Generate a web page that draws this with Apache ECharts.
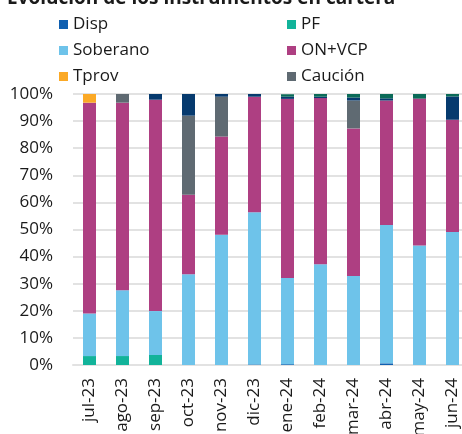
<!DOCTYPE html>
<html>
<head>
<meta charset="utf-8">
<script src="https://cdn.jsdelivr.net/npm/echarts@6/dist/echarts.min.js"></script>
<style>
  html, body { margin: 0; padding: 0; background: #fff; }
  #chart { width: 462px; height: 434px; }
</style>
</head>
<body>
<div id="chart"></div>
<script>
var months = ['jul-23', 'ago-23', 'sep-23', 'oct-23', 'nov-23', 'dic-23', 'ene-24', 'feb-24', 'mar-24', 'abr-24', 'may-24', 'jun-24'];

// % de la cartera, de abajo hacia arriba
var disp     = [0, 0, 0, 0, 0, 0.2, 0.3, 0, 0, 0.6, 0, 0];
var pf       = [3.3, 3.3, 3.7, 0, 0, 0, 0, 0, 0, 0, 0, 0];
var soberano = [15.7, 24.3, 16.2, 33.5, 48.1, 56.2, 31.8, 37.2, 32.8, 51.1, 44.1, 49.1];
var onVcp    = [77.8, 69.2, 78.0, 29.3, 36.2, 42.6, 66.1, 61.3, 54.5, 45.9, 54.2, 41.4];
var tprov    = [3.2, 0, 0, 0, 0, 0, 0, 0, 0, 0, 0, 0];
var caucion  = [0, 3.2, 0, 29.2, 14.7, 0, 0, 0, 10.3, 0, 0, 0];
var fci      = [0, 0, 2.1, 8.0, 1.0, 1.0, 0.8, 0.5, 1.1, 0.8, 0, 8.6];
var otros    = [0, 0, 0, 0, 0, 0, 0.9, 1.0, 1.3, 1.6, 1.7, 0.9];

var names = ['Disp', 'PF', 'Soberano', 'ON+VCP', 'Tprov', 'Caución', 'FCI', 'Otros'];
var values = [disp, pf, soberano, onVcp, tprov, caucion, fci, otros];
var colors = ['#0F5FB0', '#12B39A', '#6EC3EA', '#AE3F82', '#FBA926', '#5F6A72', '#063A6E', '#0B6B58'];

var font = 'Open Sans';

var myChart = echarts.init(document.getElementById('chart'));

var series = [];
for (var i = 0; i < names.length; i++) {
    series.push({
        name: names[i],
        type: 'bar',
        stack: 'total',
        barWidth: 13,
        data: values[i],
        itemStyle: { color: colors[i] }
    });
}

var legendText = { fontFamily: font, fontSize: 17, color: '#1a1a1a' };

var option = {
    animation: false,
    textStyle: { fontFamily: font },
    title: {
        text: 'Evolución de los instrumentos en cartera',
        left: 2,
        top: -16,
        textStyle: { fontFamily: font, fontSize: 19, fontWeight: 'bold', color: '#1a1a1a' }
    },
    legend: [{
        data: ['Disp', 'Soberano', 'Tprov'],
        orient: 'vertical',
        left: 54,
        top: 11,
        icon: 'rect',
        itemWidth: 9,
        itemHeight: 9,
        itemGap: 9,
        textStyle: legendText
    }, {
        data: ['PF', 'ON+VCP', 'Caución'],
        orient: 'vertical',
        left: 282,
        top: 11,
        icon: 'rect',
        itemWidth: 9,
        itemHeight: 9,
        itemGap: 9,
        textStyle: legendText
    }],
    grid: {
        left: 73,
        right: -7,
        top: 94,
        bottom: 69,
        containLabel: false,
        outerBoundsMode: 'none'
    },
    xAxis: {
        type: 'category',
        data: months,
        axisLine: { show: true, lineStyle: { color: '#e2e2e2', width: 2 } },
        axisTick: { show: false },
        axisLabel: {
            rotate: 90,
            margin: 13,
            fontFamily: font,
            fontSize: 17,
            color: '#1a1a1a'
        }
    },
    yAxis: {
        type: 'value',
        min: 0,
        max: 100,
        interval: 10,
        axisLine: { show: false },
        axisTick: { show: false },
        axisLabel: {
            formatter: '{value}%',
            margin: 20,
            fontFamily: font,
            fontSize: 17,
            color: '#1a1a1a'
        },
        splitLine: { lineStyle: { color: '#e2e2e2', width: 2 } }
    },
    series: series
};

myChart.setOption(option);
</script>
</body>
</html>
